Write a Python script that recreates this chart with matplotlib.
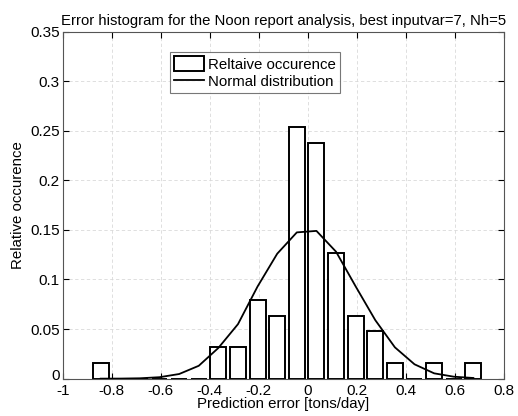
import matplotlib
matplotlib.use("Agg")
import matplotlib.pyplot as plt
import matplotlib.transforms as mtransforms
import numpy as np

plt.rcParams['font.family'] = ['Liberation Sans', 'DejaVu Sans']

bin_centers = [-0.845, -0.765, -0.685, -0.605, -0.525, -0.445, -0.365, -0.285,
               -0.205, -0.125, -0.045, 0.035, 0.115, 0.195, 0.275, 0.355,
               0.435, 0.515, 0.595, 0.675]
rel_occurrence = [1/63, 0, 0, 0, 0, 0, 2/63, 2/63, 5/63, 4/63, 16/63, 15/63,
                  8/63, 4/63, 3/63, 1/63, 0, 1/63, 0, 1/63]
normal_curve = [0.00003, 0.0001, 0.0004, 0.0015, 0.0047, 0.013, 0.031, 0.055,
                0.093, 0.126, 0.1475, 0.149, 0.128, 0.093, 0.059, 0.0316,
                0.0145, 0.0054, 0.002, 0.0007]
xticks = [-1, -0.8, -0.6, -0.4, -0.2, 0, 0.2, 0.4, 0.6, 0.8]
yticks = [0, 0.05, 0.1, 0.15, 0.2, 0.25, 0.3, 0.35]
xtick_labels = ['-1', '-0.8', '-0.6', '-0.4', '-0.2', '0', '0.2', '0.4', '0.6', '0.8']
ytick_labels = ['0', '0.05', '0.1', '0.15', '0.2', '0.25', '0.3', '0.35']

fig = plt.figure(figsize=(5.18, 4.16), dpi=100)
ax = fig.add_axes([0.121, 0.0897, 0.852, 0.8345])

bars = ax.bar(bin_centers, rel_occurrence, width=0.065, facecolor='white',
              edgecolor='black', linewidth=1.4, label='Reltaive occurence', zorder=2)
line, = ax.plot(bin_centers, normal_curve, color='black', linewidth=1.3,
                label='Normal distribution', zorder=3)

ax.set_xlim(-1, 0.8)
ax.set_ylim(0, 0.35)
ax.set_xticks(xticks)
ax.set_xticklabels(xtick_labels)
ax.set_yticks(yticks)
ax.set_yticklabels(ytick_labels)
ax.tick_params(direction='in', labelsize=11, length=4, width=0.8, top=True, right=True)
ax.tick_params(axis='x', pad=4)
ax.tick_params(axis='y', pad=2)
ax.grid(True, color='#d9d9d9', linestyle=(0, (4, 3)), linewidth=0.6, zorder=0)
ax.set_axisbelow(True)
for s in ax.spines.values():
    s.set_linewidth(0.8)
    s.set_color('#555555')

# nudge the y "0" label up a little so it does not collide with the x "-1" label
zero_lbl = ax.get_yticklabels()[0]
zero_lbl.set_transform(zero_lbl.get_transform() +
                       mtransforms.ScaledTranslation(0, 3 / 72, fig.dpi_scale_trans))

ax.set_xlabel('Prediction error [tons/day]', fontsize=10.8, labelpad=-1)
ax.set_ylabel('Relative occurence', fontsize=10.8, labelpad=4)
ax.set_title('Error histogram for the Noon report analysis, best inputvar=7, Nh=5',
             fontsize=10.7, pad=5)

leg = ax.legend([bars, line], ['Reltaive occurence', 'Normal distribution'],
                loc='upper left', bbox_to_anchor=(0.243, 0.94), fontsize=10.8,
                frameon=True, fancybox=False, edgecolor='#555555',
                handlelength=2.0, handleheight=1.2, handletextpad=0.3, borderpad=0.25,
                labelspacing=0.1, borderaxespad=0)
leg.get_frame().set_linewidth(0.8)

fig.savefig('out.png', dpi=100)
